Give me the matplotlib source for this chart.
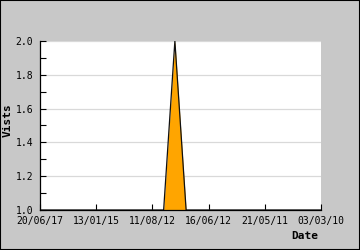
import matplotlib
matplotlib.use("Agg")
import matplotlib.pyplot as plt
from matplotlib.ticker import MultipleLocator
from matplotlib.patches import Rectangle

visits = [1, 1, 1, 1, 1, 1, 1, 1, 1, 1, 1, 1, 2, 1, 1, 1, 1, 1, 1, 1, 1, 1, 1, 1, 1, 1]
tick_positions = [0, 5, 10, 15, 20, 25]
tick_labels = ["20/06/17", "13/01/15", "11/08/12", "16/06/12", "21/05/11", "03/03/10"]

plt.rcParams['font.family'] = ['DejaVu Sans Mono']

fig = plt.figure(figsize=(3.6, 2.5), dpi=100, facecolor='#c8c8c8')
ax = fig.add_axes([40/360, 1-210/250, 281/360, 169/250])
ax.set_facecolor('white')

x = list(range(len(visits)))
ax.fill_between(x, 1.0, visits, color='#ffa500', linewidth=0)
ax.plot(x, visits, color='#111111', linewidth=0.9)

ax.set_xlim(0, len(visits) - 1)
ax.set_ylim(1.0, 2.0)
ax.set_xticks(tick_positions)
ax.set_xticklabels(tick_labels)
ax.yaxis.set_major_locator(MultipleLocator(0.2))
ax.yaxis.set_minor_locator(MultipleLocator(0.1))
ax.yaxis.set_major_formatter(plt.FuncFormatter(lambda v, p: f"{v:.1f}"))

ax.tick_params(axis='both', which='both', direction='in', length=4, width=0.8,
               color='black', labelsize=7, labelcolor='black')
ax.tick_params(axis='x', pad=4.5)
ax.tick_params(axis='y', pad=5)

ax.grid(axis='y', which='major', color='#d9d9d9', linewidth=0.9)
ax.set_axisbelow(True)

for s in ['top', 'right']:
    ax.spines[s].set_visible(False)
for s in ['left', 'bottom']:
    ax.spines[s].set_color('black')
    ax.spines[s].set_linewidth(0.9)

fig.text(305/360, 1-236/250, "Date", fontsize=8, fontweight='bold', ha='center', va='center')
fig.text(8/360, 1-120/250, "Vists", fontsize=8, fontweight='bold', ha='center', va='center', rotation=90)

fig.patches.append(Rectangle((0, 0), 1, 1, transform=fig.transFigure, fill=False,
                             edgecolor='black', linewidth=1.5))

fig.savefig("out.png", dpi=100, facecolor=fig.get_facecolor())
